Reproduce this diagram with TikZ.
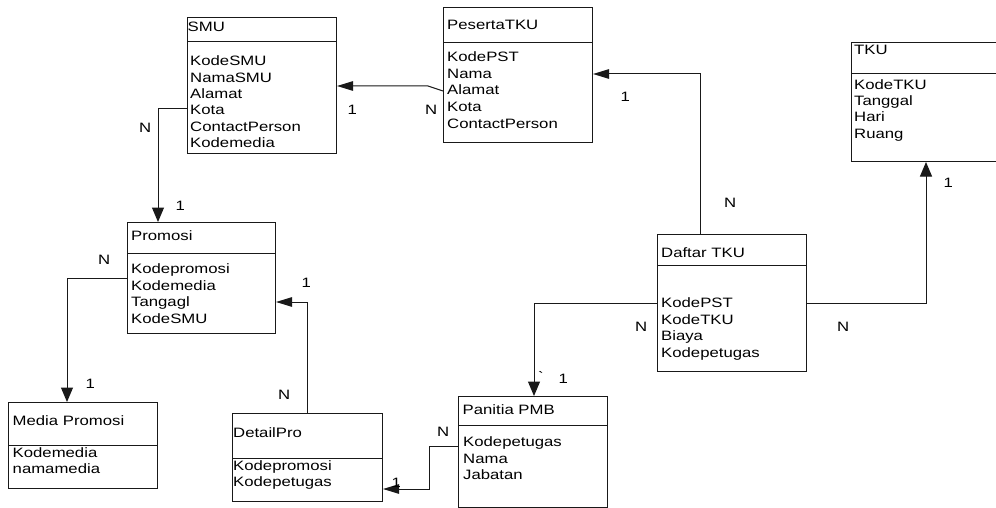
\documentclass[tikz,border=0pt]{standalone}
\usepackage{fontspec}
\setmainfont{Liberation Sans}[FakeStretch=1.23]
\usetikzlibrary{arrows.meta}
\tikzset{
  ln/.style={line width=1pt, draw=black!90},
  box/.style={ln, rectangle, inner sep=0pt, anchor=north west},
  txt/.style={anchor=base west, inner sep=0pt, font=\fontsize{13.6}{16}\selectfont},
  harr/.style={ln, -{Triangle[length=16pt,width=9.5pt]}},
  varr/.style={ln, -{Triangle[length=14.5pt,width=12pt]}},
}
\begin{document}
\begin{tikzpicture}[x=1pt,y=-1pt]
\useasboundingbox (0,0) rectangle (996,508);
\clip (0,0) rectangle (996,508);

% ---------- boxes ----------
\node[box, minimum width=149pt, minimum height=136pt] (smu) at (187,17) {};
\draw[ln] (smu.west |- 0,42) -- (smu.east |- 0,42);
\node[box, minimum width=149pt, minimum height=135pt] (pst) at (443,7) {};
\draw[ln] (pst.west |- 0,43) -- (pst.east |- 0,43);
\node[box, minimum width=160pt, minimum height=119pt] (tku) at (851,42) {};
\draw[ln] (tku.west |- 0,74) -- (tku.east |- 0,74);
\node[box, minimum width=148pt, minimum height=111pt] (promosi) at (127,222) {};
\draw[ln] (promosi.west |- 0,253) -- (promosi.east |- 0,253);
\node[box, minimum width=149pt, minimum height=86pt] (media) at (8,402) {};
\draw[ln] (media.west |- 0,445) -- (media.east |- 0,445);
\node[box, minimum width=150pt, minimum height=88pt] (detail) at (232,413) {};
\draw[ln] (detail.west |- 0,458) -- (detail.east |- 0,458);
\node[box, minimum width=149pt, minimum height=111pt] (panitia) at (458,396) {};
\draw[ln] (panitia.west |- 0,425) -- (panitia.east |- 0,425);
\node[box, minimum width=149pt, minimum height=137pt] (daftar) at (657,234) {};
\draw[ln] (daftar.west |- 0,265) -- (daftar.east |- 0,265);

% ---------- titles ----------
\node[txt] (smu-t) at (187.5,32) {SMU};
\node[txt] (pst-t) at (447,30) {PesertaTKU};
\node[txt] (tku-t) at (854,55) {TKU};
\node[txt] (promosi-t) at (131,240.5) {Promosi};
\node[txt] (media-t) at (12.5,425) {Media Promosi};
\node[txt] (detail-t) at (233,437) {DetailPro};
\node[txt] (panitia-t) at (462.5,414) {Panitia PMB};
\node[txt] (daftar-t) at (661,257.3) {Daftar TKU};

% ---------- fields ----------
\foreach \t [count=\i] in {KodeSMU,NamaSMU,Alamat,Kota,ContactPerson,Kodemedia}
  \node[txt] (smu-\i) at (190,{66+16.3*(\i-1)}) {\t};
\foreach \t [count=\i] in {KodePST,Nama,Alamat,Kota,ContactPerson}
  \node[txt] (pst-\i) at (447,{61.7+16.6*(\i-1)}) {\t};
\foreach \t [count=\i] in {KodeTKU,Tanggal,Hari,Ruang}
  \node[txt] (tku-\i) at (854,{89.3+16.3*(\i-1)}) {\t};
\foreach \t [count=\i] in {Kodepromosi,Kodemedia,Tangagl,KodeSMU}
  \node[txt] (promosi-\i) at (131,{273.3+16.7*(\i-1)}) {\t};
\foreach \t [count=\i] in {Kodemedia,namamedia}
  \node[txt] (media-\i) at (12.5,{457.8+15.6*(\i-1)}) {\t};
\foreach \t [count=\i] in {Kodepromosi,Kodepetugas}
  \node[txt] (detail-\i) at (233,{470.7+16*(\i-1)}) {\t};
\foreach \t [count=\i] in {Kodepetugas,Nama,Jabatan}
  \node[txt] (panitia-\i) at (463,{446.7+16.6*(\i-1)}) {\t};
\foreach \t [count=\i] in {KodePST,KodeTKU,Biaya,Kodepetugas}
  \node[txt] (daftar-\i) at (661,{307.7+16.5*(\i-1)}) {\t};

% ---------- connectors ----------
\draw[harr] (pst.west |- 0,91) -- ++(-15,-5) -- (smu.east |- 0,86);
\draw[harr] (daftar.north -| 700,0) |- (pst.east |- 0,74);
\draw[varr] (daftar.east |- 0,303) -| (tku.south -| 926,0);
\draw[varr] (smu.west |- 0,109) -| (promosi.north -| 158,0);
\draw[varr] (promosi.west |- 0,278) -| (media.north -| 67,0);
\draw[harr] (detail.north -| 307.5,0) |- (promosi.east |- 0,302);
\draw[harr] (panitia.west |- 0,446) -- ++(-29,0) |- (detail.east |- 0,489);
\draw[varr] (daftar.west |- 0,303) -| (panitia.north -| 534,0);

% ---------- cardinality labels ----------
\node[txt] (l1) at (139,132.7) {N};
\node[txt] (l2) at (347.5,114.3) {1};
\node[txt] (l3) at (425,114.3) {N};
\node[txt] (l4) at (620.5,102) {1};
\node[txt] (l5) at (724,207.7) {N};
\node[txt] (l6) at (943.5,187.3) {1};
\node[txt] (l7) at (175.5,210) {1};
\node[txt] (l8) at (98,264) {N};
\node[txt] (l9) at (301.5,287.3) {1};
\node[txt] (l10) at (85.5,388) {1};
\node[txt] (l11) at (278,399) {N};
\node[txt] (l12) at (437,436) {N};
\node[txt] (l13) at (391.5,487) {1};
\node[txt] (l14) at (538,381) {\textasciigrave};
\node[txt] (l15) at (558.5,383) {1};
\node[txt] (l16) at (635,331) {N};
\node[txt] (l17) at (837,331) {N};
\end{tikzpicture}
\end{document}
